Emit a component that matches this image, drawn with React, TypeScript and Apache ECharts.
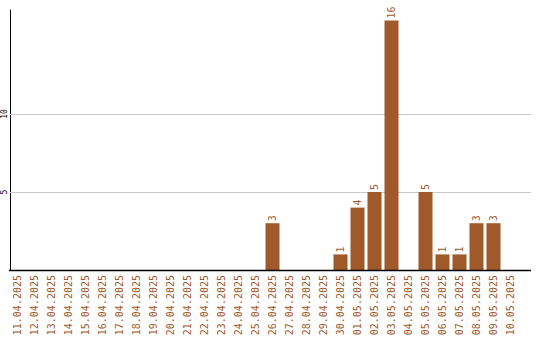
import React, { useEffect, useRef } from "react";
import * as echarts from "echarts";

const categories = [
  "11.04.2025", "12.04.2025", "13.04.2025", "14.04.2025", "15.04.2025",
  "16.04.2025", "17.04.2025", "18.04.2025", "19.04.2025", "20.04.2025",
  "21.04.2025", "22.04.2025", "23.04.2025", "24.04.2025", "25.04.2025",
  "26.04.2025", "27.04.2025", "28.04.2025", "29.04.2025", "30.04.2025",
  "01.05.2025", "02.05.2025", "03.05.2025", "04.05.2025", "05.05.2025",
  "06.05.2025", "07.05.2025", "08.05.2025", "09.05.2025", "10.05.2025",
];
const values = [
  0, 0, 0, 0, 0, 0, 0, 0, 0, 0,
  0, 0, 0, 0, 0, 3, 0, 0, 0, 1,
  4, 5, 16, 0, 5, 1, 1, 3, 3, 0,
];
const yTicks = [5, 10];

const COLOR = "#A0592A";
const FONT = "DejaVu Sans Mono";

export default function App() {
  const ref = useRef<HTMLDivElement>(null);
  useEffect(() => {
    if (!ref.current) return;
    const chart = echarts.init(ref.current, undefined, { renderer: "svg" });
    chart.setOption({
      animation: false,
      grid: { left: 9, right: 21, top: 10, bottom: 70, containLabel: false },
      xAxis: {
        type: "category",
        data: categories,
        axisLine: { show: false },
        axisTick: { show: false },
        axisLabel: {
          interval: 0,
          rotate: 90,
          margin: 5,
          color: COLOR,
          fontFamily: FONT,
          fontSize: 10,
        },
      },
      yAxis: {
        type: "value",
        min: 0,
        max: 16.67,
        interval: 5,
        offset: -1,
        axisLine: { show: true, lineStyle: { color: "#000", width: 1 } },
        axisTick: { show: false },
        splitLine: { show: false },
        axisLabel: {
          rotate: 90,
          margin: 2,
          color: "#000",
          fontFamily: FONT,
          fontSize: 8,
          formatter: (v: number) => (yTicks.includes(v) ? String(v) : ""),
        },
      },
      series: [
        {
          type: "bar",
          data: values,
          barWidth: 14,
          itemStyle: { color: COLOR },
          label: {
            show: true,
            position: "top",
            rotate: 90,
            align: "left",
            verticalAlign: "middle",
            distance: 2,
            color: COLOR,
            fontFamily: FONT,
            fontSize: 10,
            formatter: (p: any) => (p.value ? String(p.value) : ""),
          },
          z: 3,
        },
      ],
    });
    const yBase = chart.convertToPixel({ yAxisIndex: 0 }, 0);
    const xEnd = 531;
    const graphics: any[] = yTicks.map((t) => {
      const y = Math.round(chart.convertToPixel({ yAxisIndex: 0 }, t)) + 0.5;
      return {
        type: "line",
        z: 1,
        shape: { x1: 10, y1: y, x2: xEnd, y2: y },
        style: { stroke: "#c8c8c8", lineWidth: 1 },
      };
    });
    graphics.push({
      type: "line",
      z: 10,
      shape: { x1: 9, y1: Math.round(yBase) + 0.5, x2: xEnd, y2: Math.round(yBase) + 0.5 },
      style: { stroke: "#000", lineWidth: 1.5 },
    });
    chart.setOption({ graphic: graphics });
    return () => chart.dispose();
  }, []);
  return (
    <div
      ref={ref}
      style={{ position: "fixed", left: 0, top: 0, width: 540, height: 340, background: "#fff" }}
    />
  );
}
